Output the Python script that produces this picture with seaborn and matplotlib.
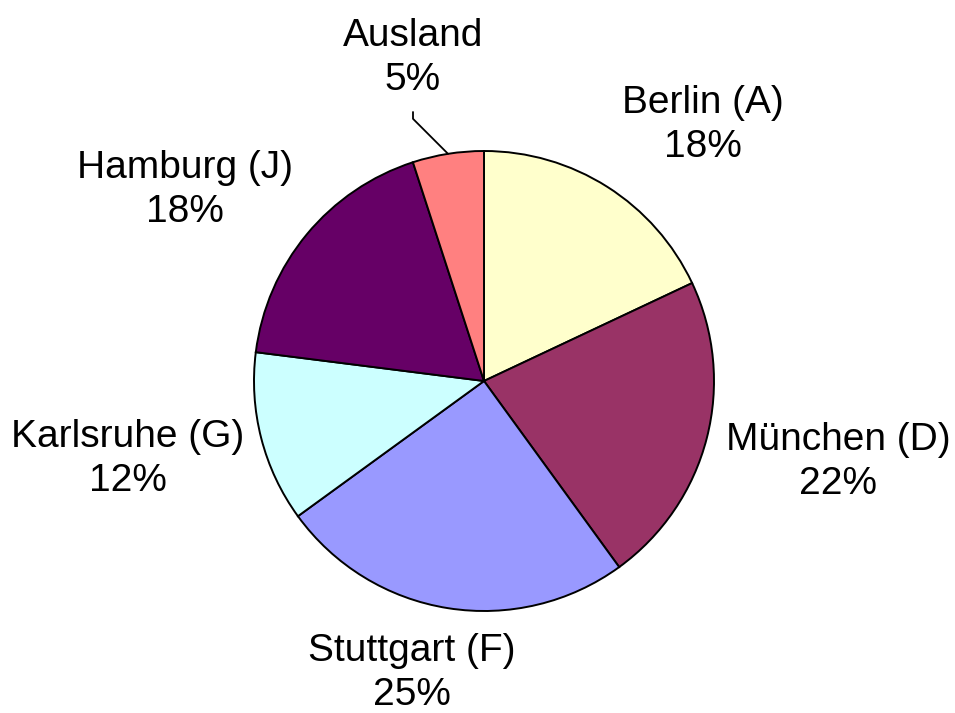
import numpy as np
import matplotlib.pyplot as plt
import seaborn as sns

sns.set_style("white")
plt.rcParams['font.family'] = ['Liberation Sans', 'DejaVu Sans']

# Data (clockwise from 12 o'clock)
regions = ['Berlin (A)', 'München (D)', 'Stuttgart (F)', 'Karlsruhe (G)', 'Hamburg (J)', 'Ausland']
shares = [18, 22, 25, 12, 18, 5]
colors = ['#FFFFCC', '#993366', '#9999FF', '#CCFFFF', '#660066', '#FF8080']

# Layout (pixel coords, y from top)
W, H = 955, 713
pie_center = (484, H - 381)
pie_radius = 230
label_pos = [(703, 125), (838, 462), (412, 673), (128, 459), (185, 190), (413, 58)]

fig = plt.figure(figsize=(W / 100, H / 100), dpi=100)
ax = fig.add_axes([0, 0, 1, 1])

wedges, _ = ax.pie(shares, colors=colors, startangle=90, counterclock=False,
                   center=pie_center, radius=pie_radius,
                   wedgeprops=dict(edgecolor='black', linewidth=1.4))

# Labels with percentages
for name, val, (px, py) in zip(regions, shares, label_pos):
    ax.text(px, H - py, f'{name}\n{val}%', ha='center', va='center',
            multialignment='center', fontsize=28, linespacing=1.3, color='black')

# Leader line for the small "Ausland" slice
w = wedges[-1]
theta = np.deg2rad((w.theta1 + w.theta2) / 2)
xe = pie_center[0] + pie_radius * np.cos(theta)
ye = pie_center[1] + pie_radius * np.sin(theta)
x0 = label_pos[-1][0]
ax.plot([x0, x0, xe], [H - 112, ye + (xe - x0), ye], color='black', lw=1.3)

ax.set_xlim(0, W)
ax.set_ylim(0, H)
ax.set_aspect('equal')
ax.axis('off')

plt.savefig('out.png', dpi=100)
